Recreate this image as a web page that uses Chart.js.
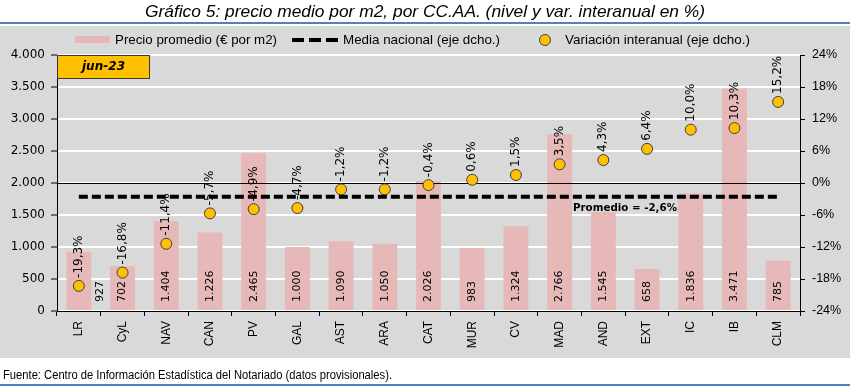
<!DOCTYPE html>
<html>
<head>
<meta charset="utf-8">
<script src="https://cdn.jsdelivr.net/npm/chart.js@4.4.0/dist/chart.umd.min.js"></script>
<style>
  html, body { margin: 0; padding: 0; background: #ffffff; }
  #wrap { width: 850px; height: 386px; position: relative; }
</style>
</head>
<body>
<div id="wrap"><canvas id="c"></canvas></div>
<script>
const categories = ['LR','CyL','NAV','CAN','PV','GAL','AST','ARA','CAT','MUR','CV','MAD','AND','EXT','IC','IB','CLM'];
const precioPromedio = [927, 702, 1404, 1226, 2465, 1000, 1090, 1050, 2026, 983, 1324, 2766, 1545, 658, 1836, 3471, 785];
const variacionInteranual = [-19.3, -16.8, -11.4, -5.7, -4.9, -4.7, -1.2, -1.2, -0.4, 0.6, 1.5, 3.5, 4.3, 6.4, 10.0, 10.3, 15.2];
const mediaNacional = [-2.6, -2.6, -2.6, -2.6, -2.6, -2.6, -2.6, -2.6, -2.6, -2.6, -2.6, -2.6, -2.6, -2.6, -2.6, -2.6, -2.6];
const leftTickLabels = ['0', '500', '1.000', '1.500', '2.000', '2.500', '3.000', '3.500', '4.000'];
const rightTickLabels = ['-24%', '-18%', '-12%', '-6%', '0%', '6%', '12%', '18%', '24%'];
const seriesNames = ['Precio promedio (€ por m2)', 'Media nacional (eje dcho.)', 'Variación interanual (eje dcho.)'];
const titleText = 'Gráfico 5: precio medio por m2, por CC.AA. (nivel y var. interanual en %)';
const footerText = 'Fuente: Centro de Información Estadística del Notariado (datos provisionales).';
const periodText = 'jun-23';
const promedioText = 'Promedio = -2,6%';

const PINK = '#e6b9b8';
const GOLD = '#ffc000';
const GREY = '#d9d9d9';
const BLUE = '#4f81bd';

function fmtThousands(v) {
  return String(v).replace(/\B(?=(\d{3})+(?!\d))/g, '.');
}
function fmtPct(v) {
  return v.toFixed(1).replace('.', ',') + '%';
}
function fitText(ctx, text, x, y, width, align) {
  const w = ctx.measureText(text).width;
  const s = width / w;
  ctx.save();
  ctx.translate(x, y);
  ctx.scale(s, 1);
  ctx.textAlign = 'left';
  ctx.fillText(text, align === 'center' ? -w / 2 : 0, 0);
  ctx.restore();
}

const decor = {
  id: 'decor',
  beforeDraw(chart) {
    const ctx = chart.ctx;
    ctx.save();
    ctx.fillStyle = '#ffffff';
    ctx.fillRect(0, 0, 850, 386);
    ctx.fillStyle = GREY;
    ctx.fillRect(0, 26, 850, 332);
    ctx.fillStyle = BLUE;
    ctx.fillRect(0, 22, 850, 2);
    ctx.fillRect(0, 384, 850, 2);
    ctx.fillStyle = '#000';
    ctx.textBaseline = 'middle';
    ctx.font = 'italic 17px "Liberation Sans"';
    fitText(ctx, titleText, 425, 12.5, 560, 'center');
    ctx.font = '12px "Liberation Sans"';
    fitText(ctx, footerText, 3, 376, 389, 'left');
    ctx.restore();
  },
  afterDatasetDraw(chart, args) {
    const ctx = chart.ctx;
    const ca = chart.chartArea;
    if (args.index === 0) {
      const y0 = Math.round(chart.scales.y1.getPixelForValue(0)) + 0.5;
      ctx.save();
      ctx.strokeStyle = '#000';
      ctx.lineWidth = 1;
      ctx.beginPath();
      ctx.moveTo(ca.left, y0);
      ctx.lineTo(ca.right, y0);
      ctx.stroke();
      ctx.fillStyle = '#000';
      ctx.font = '11px "DejaVu Sans"';
      ctx.textAlign = 'left';
      ctx.textBaseline = 'middle';
      const shift = {0: 21};
      args.meta.data.forEach((el, i) => {
        ctx.save();
        ctx.translate(el.x + (shift[i] || 0), el.base - 8);
        ctx.rotate(-Math.PI / 2);
        ctx.fillText(fmtThousands(precioPromedio[i]), 0, 0);
        ctx.restore();
      });
      ctx.restore();
    }
    if (args.index === 1) {
      ctx.save();
      ctx.fillStyle = '#000';
      ctx.font = '12px "DejaVu Sans"';
      ctx.textAlign = 'left';
      ctx.textBaseline = 'middle';
      args.meta.data.forEach((el, i) => {
        ctx.save();
        ctx.translate(el.x, el.y - 8);
        ctx.rotate(-Math.PI / 2);
        ctx.fillText(fmtPct(variacionInteranual[i]), 0, 0);
        ctx.restore();
      });
      ctx.restore();
    }
  },
  afterDraw(chart) {
    const ctx = chart.ctx;
    ctx.save();
    ctx.fillStyle = '#000';
    ctx.textBaseline = 'middle';
    ctx.font = 'bold 11px "DejaVu Sans"';
    const yp = chart.scales.y1.getPixelForValue(mediaNacional[0]);
    fitText(ctx, promedioText, 573, yp + 11, 104, 'left');
    ctx.fillStyle = GOLD;
    ctx.fillRect(57, 55, 93, 24);
    ctx.strokeStyle = '#3a3a3a';
    ctx.lineWidth = 1;
    ctx.strokeRect(57.5, 55.5, 92, 23);
    ctx.fillStyle = '#000';
    ctx.font = 'italic bold 12px "DejaVu Sans"';
    fitText(ctx, periodText, 103.5, 67, 43, 'center');
    const ly = 40;
    ctx.fillStyle = PINK;
    ctx.fillRect(75, 36, 35, 7);
    ctx.strokeStyle = '#000';
    ctx.lineWidth = 4;
    ctx.setLineDash([12, 5]);
    ctx.beginPath();
    ctx.moveTo(292, ly);
    ctx.lineTo(338, ly);
    ctx.stroke();
    ctx.setLineDash([]);
    ctx.fillStyle = GOLD;
    ctx.strokeStyle = '#404040';
    ctx.lineWidth = 1;
    ctx.beginPath();
    ctx.arc(545, ly, 5.5, 0, Math.PI * 2);
    ctx.fill();
    ctx.stroke();
    ctx.fillStyle = '#000';
    ctx.font = '13px "Liberation Sans"';
    fitText(ctx, seriesNames[0], 115, ly, 162, 'left');
    fitText(ctx, seriesNames[1], 343, ly, 157, 'left');
    fitText(ctx, seriesNames[2], 565, ly, 185, 'left');
    ctx.restore();
  }
};

new Chart(document.getElementById('c'), {
  data: {
    labels: categories,
    datasets: [
      {
        type: 'bar',
        label: seriesNames[0],
        data: precioPromedio,
        backgroundColor: PINK,
        borderWidth: 0,
        yAxisID: 'y',
        categoryPercentage: 1,
        barPercentage: 0.57,
        order: 3
      },
      {
        type: 'line',
        label: seriesNames[2],
        data: variacionInteranual,
        showLine: false,
        pointRadius: 5.5,
        pointHoverRadius: 5.5,
        pointBackgroundColor: GOLD,
        pointBorderColor: '#404040',
        pointBorderWidth: 1,
        yAxisID: 'y1',
        order: 2
      },
      {
        type: 'line',
        label: seriesNames[1],
        data: mediaNacional,
        borderColor: '#000',
        borderWidth: 4,
        borderDash: [9, 4],
        pointRadius: 0,
        fill: false,
        yAxisID: 'y1',
        order: 1
      }
    ]
  },
  options: {
    responsive: true,
    maintainAspectRatio: false,
    animation: false,
    events: [],
    layout: { padding: { top: 55, left: 0, right: 0, bottom: 0 } },
    plugins: { legend: { display: false }, title: { display: false }, tooltip: { enabled: false } },
    scales: {
      x: {
        offset: true,
        grid: { display: true, drawOnChartArea: false, tickLength: 5, tickColor: '#000', tickWidth: 1, offset: true },
        border: { display: true, color: '#000', width: 1 },
        ticks: { minRotation: 90, maxRotation: 90, autoSkip: false, padding: 5, color: '#000', font: { family: 'Liberation Sans', size: 12 } },
        afterFit(s) { s.height = 75; }
      },
      y: {
        position: 'left',
        min: 0, max: 4000,
        ticks: { stepSize: 500, padding: 6, color: '#000', font: { family: 'DejaVu Sans', size: 12 },
          callback: (v, i) => leftTickLabels[i] },
        grid: { color: '#ffffff', lineWidth: 2, tickColor: '#000', tickLength: 6, tickWidth: 1 },
        border: { display: true, color: '#000', width: 1 },
        afterFit(s) { s.width = 57; }
      },
      y1: {
        position: 'right',
        min: -24, max: 24,
        ticks: { stepSize: 6, padding: 7, color: '#000', font: { family: 'Liberation Sans', size: 12.5 },
          callback: (v, i) => rightTickLabels[i] },
        grid: { drawOnChartArea: false, tickColor: '#000', tickLength: 5, tickWidth: 1 },
        border: { display: true, color: '#000', width: 1 },
        afterFit(s) { s.width = 50; }
      }
    }
  },
  plugins: [decor]
});
</script>
</body>
</html>
